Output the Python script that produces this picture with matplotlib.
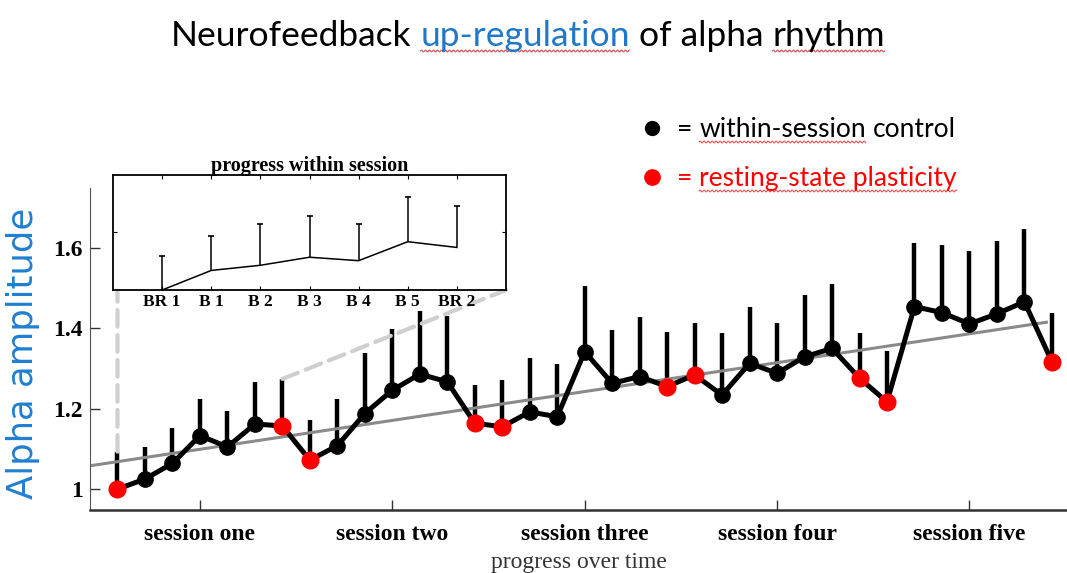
import numpy as np
import matplotlib.pyplot as plt
from matplotlib.lines import Line2D
from matplotlib.patches import ConnectionPatch
from matplotlib.transforms import blended_transform_factory

# five sessions, seven blocks each (BR 1, B 1..B 5, BR 2)
sessions = ['session one', 'session two', 'session three', 'session four', 'session five']
amp = [1.000, 1.025, 1.064, 1.133, 1.105, 1.162, 1.157,
       1.072, 1.108, 1.188, 1.246, 1.286, 1.267, 1.164,
       1.155, 1.192, 1.180, 1.342, 1.263, 1.280, 1.255,
       1.284, 1.234, 1.313, 1.288, 1.329, 1.350, 1.276,
       1.217, 1.454, 1.439, 1.411, 1.436, 1.466, 1.317]
amp_top = [1.093, 1.105, 1.153, 1.223, 1.194, 1.267, 1.274,
           1.172, 1.224, 1.338, 1.398, 1.443, 1.431, 1.259,
           1.271, 1.325, 1.311, 1.505, 1.396, 1.429, 1.392,
           1.414, 1.388, 1.454, 1.414, 1.483, 1.510, 1.388,
           1.344, 1.612, 1.607, 1.593, 1.618, 1.647, 1.439]
trend_x = [0, 34.8]
trend_y = [1.058, 1.415]

# inset: averaged progress within a session
blocks = ['BR 1', 'B 1', 'B 2', 'B 3', 'B 4', 'B 5', 'BR 2']
within = [1.000, 1.034, 1.043, 1.057, 1.051, 1.084, 1.074]
within_top = [1.059, 1.094, 1.114, 1.128, 1.114, 1.161, 1.146]

W, H = 1067, 573
fig = plt.figure(figsize=(W / 100, H / 100), dpi=100)
fig.patch.set_facecolor('white')

x = np.arange(1, len(amp) + 1)
amp = np.array(amp)
amp_top = np.array(amp_top)
is_rest = np.array([(i % 7) in (0, 6) for i in range(len(amp))])

ax = fig.add_axes([90 / W, 63 / H, (W - 90) / W, (510 - 188) / H])
ax.vlines(x, amp, amp_top, color='k', lw=3.2, zorder=2)
ax.plot(trend_x, trend_y, color='#8a8a8a', lw=2.2, zorder=2.5)
ax.plot(x, amp, '-o', color='k', lw=3.6, ms=11, zorder=3)
ax.plot(x[is_rest], amp[is_rest], 'o', color='#ff0000', ms=13, mec='none', zorder=4)

ax.set_xlim(0, 35.55)
ax.set_ylim(0.948, 1.749)
ax.set_yticks([1, 1.2, 1.4, 1.6], ['1', '1.2', '1.4', '1.6'])
ax.set_xticks(x[3::7], sessions)
for s in ['top', 'right']:
    ax.spines[s].set_visible(False)
ax.spines['left'].set_color('#555555')
ax.spines['bottom'].set_color('#333333')
ax.spines['bottom'].set_linewidth(1.8)
ax.tick_params(direction='in', length=7, width=1, color='#333333')
ax.tick_params(axis='y', pad=5)
ax.tick_params(axis='x', pad=10)
for lab in ax.get_xticklabels() + ax.get_yticklabels():
    lab.set_fontfamily('Liberation Serif')
    lab.set_fontweight('bold')
    lab.set_fontsize(17)
ax.set_xlabel('progress over time', family='Liberation Serif', fontsize=17,
              color='#333333', labelpad=5)

# inset
ax_in = fig.add_axes([113 / W, (H - 290) / H, 393 / W, 115 / H], zorder=5)
ax_in.set_facecolor('white')
xi = np.arange(1, len(within) + 1)
ax_in.vlines(xi, within, within_top, color='k', lw=1.1)
ax_in.plot(xi, within_top, ls='none', marker='_', ms=5, mew=1.2, color='k')
ax_in.plot(xi, within, color='k', lw=1.1, clip_on=False)
ax_in.set_xlim(0, 8)
ax_in.set_ylim(1.0, 1.2)
ax_in.set_xticks(xi, blocks)
ax_in.set_yticks([1.1], [''])
ax_in.tick_params(direction='in', length=3, top=True, right=True, pad=3)
for lab in ax_in.get_xticklabels():
    lab.set_fontfamily('Liberation Serif')
    lab.set_fontweight('bold')
    lab.set_fontsize(12.5)
for s in ax_in.spines.values():
    s.set_linewidth(1.3)
ax_in.set_title('progress within session', family='Liberation Serif',
                fontweight='bold', fontsize=14.5, pad=3)

# dashed zoom connectors from session one to the inset
dash = dict(color='#cfcfcf', lw=3, linestyle=(0, (4, 2)), zorder=1)
con1 = ConnectionPatch(xyA=(x[0], amp_top[0]), coordsA=ax.transData,
                       xyB=(x[0], 0), coordsB=blended_transform_factory(ax.transData, ax_in.transAxes),
                       **dash)
con2 = ConnectionPatch(xyA=(x[6], amp_top[6]), coordsA=ax.transData,
                       xyB=(1, 0), coordsB=ax_in.transAxes, **dash)
fig.add_artist(con1)
fig.add_artist(con2)

fig.text(23 / W, 1 - 353 / H, 'Alpha amplitude', rotation=90, ha='center', va='center',
         family='DejaVu Sans', fontsize=25.5, color='#1f7fd0')

# text runs with word-processor style squiggles
renderer = fig.canvas.get_renderer()


def text_width(s, **kw):
    t = fig.text(0, 0, s, **kw)
    w = t.get_window_extent(renderer).width
    t.remove()
    return w


def squiggle(x0, x1, yb):
    xs = np.arange(x0, x1, 0.5)
    ys = yb + 1.0 * np.sin(2 * np.pi * (xs - x0) / 4.0)
    fig.add_artist(Line2D(xs / W, ys / H, transform=fig.transFigure,
                          color='#e04040', lw=0.7))


def text_run(pieces, xpx, ypx, center=False, **kw):
    space = text_width('n n', **kw) - text_width('nn', **kw)
    widths = [text_width(p[0], **kw) for p in pieces]
    if center:
        xpx = xpx - (sum(widths) + space * (len(pieces) - 1)) / 2
    yb = H - ypx
    for (s, col, wavy), w in zip(pieces, widths):
        t = fig.text(xpx / W, yb / H, s, ha='left', va='baseline', color=col, **kw)
        bb = t.get_window_extent(renderer)
        if wavy:
            squiggle(bb.x0, bb.x1, yb - 5)
        xpx = bb.x1 + space


text_run([('Neurofeedback', 'black', False), ('up-regulation', '#1f78c8', True),
          ('of alpha', 'black', False), ('rhythm', 'black', True)],
         528, 46, center=True, family='Lato', fontsize=25.5)

fig.add_artist(Line2D([652 / W], [1 - 128 / H], transform=fig.transFigure,
                      marker='o', ms=10, color='black'))
fig.add_artist(Line2D([652 / W], [1 - 177 / H], transform=fig.transFigure,
                      marker='o', ms=11, color='#ff0000'))
text_run([('=', 'black', False), ('within-session', 'black', True), ('control', 'black', False)],
         677, 137, family='Lato', fontsize=19)
text_run([('=', '#ff0000', False), ('resting-state plasticity', '#ff0000', True)],
         677, 186, family='Lato', fontsize=19)

fig.savefig('out.png', dpi=100)
